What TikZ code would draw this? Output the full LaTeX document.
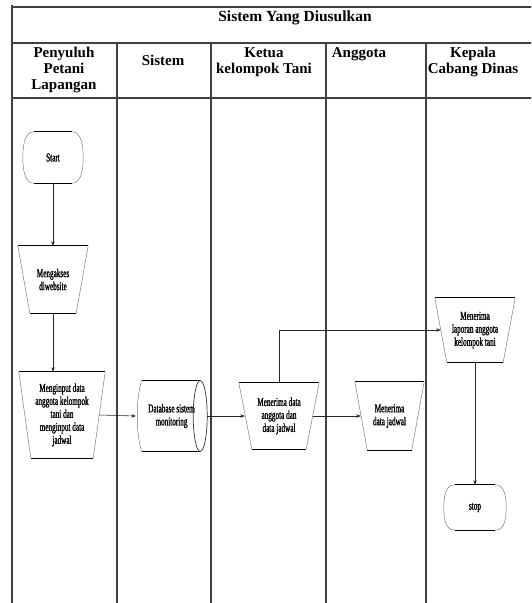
\documentclass[tikz,border=0pt]{standalone}
\usepackage{fontspec}
\setmainfont{Liberation Serif}
\newfontfamily\condfont[FakeStretch=0.6,FakeBold=1.2]{Liberation Serif}
\usetikzlibrary{arrows.meta,calc}
\tikzset{
  grid/.style={line width=1.1pt, draw=black!75},
  edge/.style={line width=1pt, black},
  side/.style={line width=0.45pt, black!55},
  conn/.style={line width=0.55pt, black!85, -{Stealth[length=4.5pt,width=3.5pt]}},
  shp/.style={inner sep=0pt, align=center, font=\condfont\fontsize{12}{13}\selectfont},
  head/.style={font=\bfseries\fontsize{15}{16}\selectfont, align=center, anchor=north, inner sep=0pt},
}
\newcommand\manop[2]{%
  \draw[side] (#1.north west) -- ([xshift=#2pt]#1.south west) (#1.north east) -- ([xshift=-#2pt]#1.south east);
  \draw[edge] (#1.north west) -- (#1.north east) ([xshift=#2pt]#1.south west) -- ([xshift=-#2pt]#1.south east);}
\newcommand\termin[1]{%
  \draw[side] ([xshift=-11pt]#1.north east) .. controls ([xshift=-2pt]#1.north east) and ([yshift=12pt]#1.east) .. (#1.east)
     .. controls ([yshift=-12pt]#1.east) and ([xshift=-2pt]#1.south east) .. ([xshift=-11pt]#1.south east);
  \draw[side] ([xshift=11pt]#1.north west) .. controls ([xshift=2pt]#1.north west) and ([yshift=12pt]#1.west) .. (#1.west)
     .. controls ([yshift=-12pt]#1.west) and ([xshift=2pt]#1.south west) .. ([xshift=11pt]#1.south west);
  \draw[edge] ([xshift=11pt]#1.north west) -- ([xshift=-11pt]#1.north east) ([xshift=11pt]#1.south west) -- ([xshift=-11pt]#1.south east);}
\begin{document}
\begin{tikzpicture}[x=1pt,y=-1pt]
\useasboundingbox[fill=white] (0,0) rectangle (531,603);
\begin{scope}
\clip (0,0) rectangle (531,603);
% table
\draw[grid] (12,7) -- (540,7);
\draw[grid] (12,43) -- (540,43);
\draw[grid] (12,98) -- (540,98);
\draw[grid] (12,5) -- (12,605);
\draw[grid] (117,43) -- (117,605);
\draw[grid] (211,43) -- (211,605);
\draw[grid] (326,43) -- (326,605);
\draw[grid] (426,43) -- (426,605);
\end{scope}
\node[font=\bfseries\fontsize{15.5}{16}\selectfont, inner sep=0pt] (title) at (295,18) {Sistem Yang Diusulkan};
\node[head] (h1) at (64,47) {Penyuluh\\Petani\\Lapangan};
\node[head] (h2) at (163,55) {Sistem};
\node[head] (h3) at (264,47) {Ketua\\kelompok Tani};
\node[head] (h4) at (359,47) {Anggota};
\node[head] (h5) at (473,47) {Kepala\\Cabang Dinas};

% shapes
\node[shp, minimum width=60pt, minimum height=51pt] (start) at (53,157.5) {Start};
\node[shp, minimum width=70pt, minimum height=67pt] (akses) at (53,279.5) {Mengakses\\diwebsite};
\node[shp, minimum width=86pt, minimum height=86pt] (input) at (62,415) {Menginput data\\anggota kelompok\\tani dan\\menginput data\\jadwal};
\node[shp, minimum width=71pt, minimum height=71pt] (db) at (171.5,416) {Database sistem\\monitoring};
\node[shp, minimum width=80pt, minimum height=66pt] (terima) at (279,416) {Menerima data\\anggota dan\\data jadwal};
\node[shp, minimum width=69pt, minimum height=68pt] (jadwal) at (389.5,416) {Menerima\\data jadwal};
\node[shp, minimum width=80pt, minimum height=64pt] (lapor) at (475,330) {Menerima\\laporan anggota\\kelompok tani};
\node[shp, minimum width=62pt, minimum height=45pt] (stop) at (475,507.5) {stop};

\termin{start}
\termin{stop}
\manop{akses}{12}
\manop{input}{12}
\manop{terima}{13}
\manop{jadwal}{12.5}
\manop{lapor}{12}
% database
\draw[side] ([xshift=6pt]db.north west) .. controls ([yshift=-16pt]db.north west) and ([yshift=16pt]db.south west) .. ([xshift=6pt]db.south west);
\draw[edge] ([xshift=6pt]db.north west) -- ([xshift=-7pt]db.north east) ([xshift=6pt]db.south west) -- ([xshift=-7pt]db.south east);
\draw[line width=0.7pt, black!80] ([xshift=-7pt]db.east) ellipse [x radius=7pt, y radius=35.5pt];

% connectors
\draw[conn] (start.south) -- (akses.north);
\draw[conn] (akses.south) -- (akses.south |- input.north);
\draw[conn] ([xshift=-6pt]input.east) -- (db.west);
\draw[conn] (db.east) -- ([xshift=6pt]terima.west);
\draw[conn] ([xshift=-6pt]terima.east) -- ([xshift=6pt]jadwal.west);
\draw[conn] (terima.north) |- ([xshift=6pt]lapor.west);
\draw[conn] (lapor.south) -- (stop.north);
\end{tikzpicture}
\end{document}
